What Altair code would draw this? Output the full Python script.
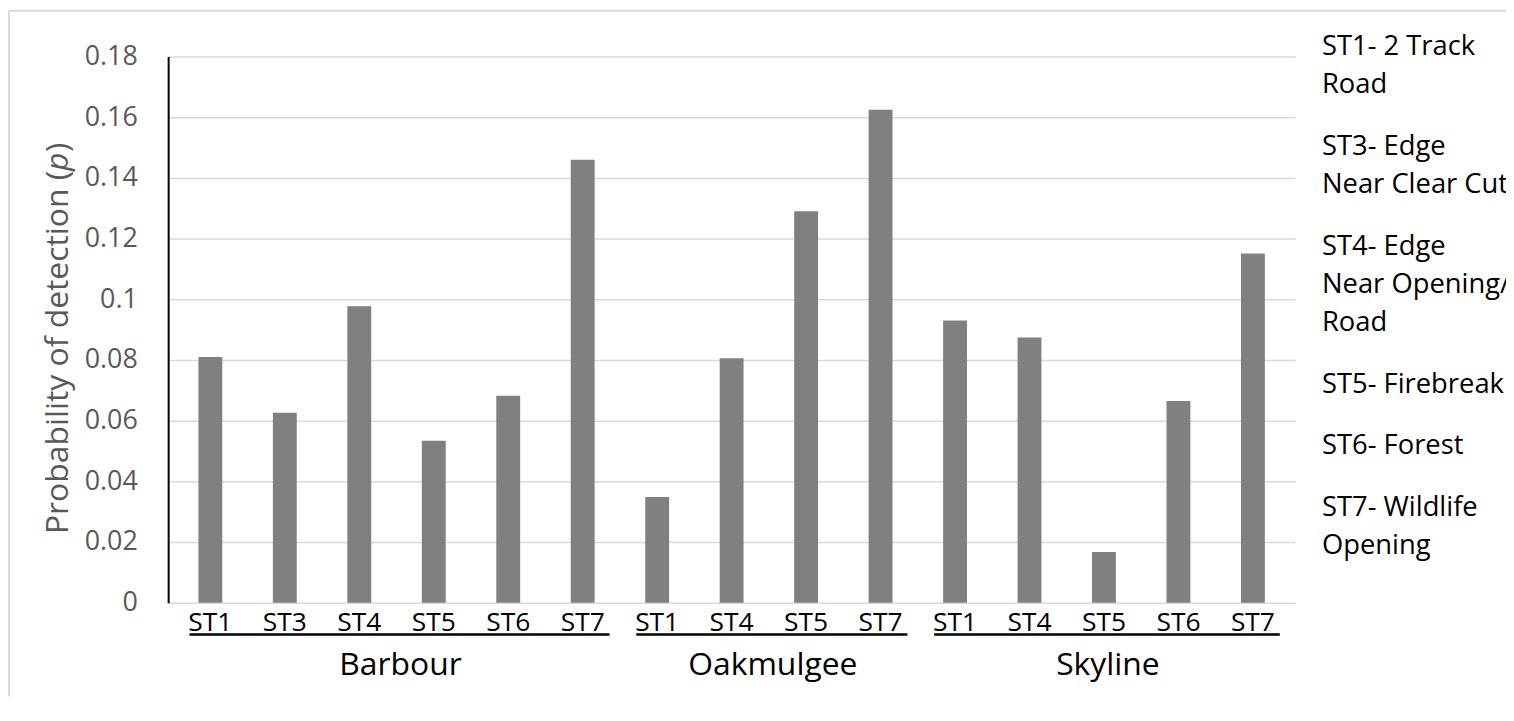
import altair as alt
import pandas as pd

# ---------------- data ----------------
groups = ["Barbour", "Oakmulgee", "Skyline"]
barbour_types = ["ST1", "ST3", "ST4", "ST5", "ST6", "ST7"]
barbour_p = [0.081, 0.0626, 0.0977, 0.0534, 0.0682, 0.146]
oak_types = ["ST1", "ST4", "ST5", "ST7"]
oak_p = [0.0348, 0.0806, 0.129, 0.1625]
sky_types = ["ST1", "ST4", "ST5", "ST6", "ST7"]
sky_p = [0.093, 0.0874, 0.0167, 0.0665, 0.1151]
y_ticks = [0, 0.02, 0.04, 0.06, 0.08, 0.1, 0.12, 0.14, 0.16, 0.18]
legend_blocks = [
    ["ST1- 2 Track", "Road"],
    ["ST3- Edge", "Near Clear Cut"],
    ["ST4- Edge", "Near Opening/", "Road"],
    ["ST5- Firebreak"],
    ["ST6- Forest"],
    ["ST7- Wildlife", "Opening"],
]
y_title_parts = ["Probability of detection (", "p", ")"]

# ---------------- tables ----------------
rows, grows = [], []
idx = 0
for g, types, vals in zip(groups, [barbour_types, oak_types, sky_types], [barbour_p, oak_p, sky_p]):
    start = idx
    for t, v in zip(types, vals):
        rows.append({"group": g, "type": t, "p": v, "pos": idx + 0.5})
        idx += 1
    grows.append({"group": g, "start": start + 0.5, "end": idx - 0.5, "mid": (start + idx) / 2})
df = pd.DataFrame(rows)
gdf = pd.DataFrame(grows)
N = idx

# legend line placement (layout)
LH, GAP, Y0 = 38.5, 23.3, -1.4
lrows = []
yy = Y0
for block in legend_blocks:
    for i, line in enumerate(block):
        lrows.append({"txt": line, "yy": yy + i * LH})
    yy += len(block) * LH + GAP
ldf = pd.DataFrame(lrows)

W, H = 1133, 549
PL, PT, PR, PB = 161, 47, 212, 94
FONT = "Open Sans"

xscale = alt.Scale(domain=[0, N], nice=False, zero=False)
x_axis = alt.Axis(labels=False, ticks=False, title=None, grid=False,
                  domainColor="black", domainWidth=2, zindex=1)

bars = alt.Chart(df).mark_bar(color="#808080", width=24).encode(
    x=alt.X("pos:Q", scale=xscale, axis=x_axis),
    y=alt.Y("p:Q", scale=alt.Scale(domain=[0, 0.18], nice=False),
            axis=alt.Axis(values=y_ticks, format=".2~f", grid=True,
                          gridColor="#d9d9d9", gridWidth=1.5,
                          domainColor="black", domainWidth=2, ticks=False,
                          labelFontSize=27, labelColor="#595959",
                          labelPadding=31, labelFont=FONT, title=None)),
)

cat_labels = alt.Chart(df).mark_text(
    font=FONT, fontSize=26.5, color="black", baseline="alphabetic", align="center"
).encode(
    x=alt.X("pos:Q", scale=xscale, axis=None),
    y=alt.value(577),
    text="type:N",
)

underlines = alt.Chart(gdf).mark_rule(
    color="black", strokeWidth=2.3, xOffset=-21, x2Offset=27
).encode(
    x=alt.X("start:Q", scale=xscale, axis=None),
    x2="end:Q",
    y=alt.value(581),
)

group_labels = alt.Chart(gdf).mark_text(
    font=FONT, fontSize=32, color="black", baseline="alphabetic", align="center", dx=4
).encode(
    x=alt.X("mid:Q", scale=xscale, axis=None),
    y=alt.value(621.7),
    text="group:N",
)

legend_text = alt.Chart(ldf).mark_text(
    font=FONT, fontSize=27.5, color="black", baseline="alphabetic", align="left"
).encode(
    x=alt.value(1160),
    y=alt.Y("yy:Q", scale=None),
    text="txt:N",
)

one = pd.DataFrame({"a": [0]})
yt1 = alt.Chart(one).mark_text(font=FONT, fontSize=32, color="#595959", angle=270,
                               align="left", baseline="middle", text=y_title_parts[0]).encode(
    x=alt.value(-111), y=alt.value(480))
yt2 = alt.Chart(one).mark_text(font=FONT, fontSize=32, color="#595959", angle=270,
                               align="left", baseline="middle", fontStyle="italic",
                               text=y_title_parts[1]).encode(
    x=alt.value(-111), y=alt.value(115))
yt3 = alt.Chart(one).mark_text(font=FONT, fontSize=32, color="#595959", angle=270,
                               align="left", baseline="middle", text=y_title_parts[2]).encode(
    x=alt.value(-111), y=alt.value(96))

# outer chart frame: only the top and left edges are in view
frame_top = alt.Chart(one).mark_rule(color="#d9d9d9", strokeWidth=2).encode(
    x=alt.value(-PL + 1), x2=alt.value(W + PR), y=alt.value(-PT + 1))
frame_left = alt.Chart(one).mark_rule(color="#d9d9d9", strokeWidth=2).encode(
    x=alt.value(-PL + 1), y=alt.value(-PT + 1), y2=alt.value(H + PB))

chart = alt.layer(
    frame_top, frame_left, bars, cat_labels, underlines, group_labels, legend_text, yt1, yt2, yt3
).properties(
    width=W, height=H,
    autosize=alt.AutoSizeParams(type="none"),
    padding={"left": PL, "top": PT, "right": PR, "bottom": PB},
    background="white",
).configure_view(stroke=None)

chart.save("out.html", embed_options={"renderer": "svg", "actions": False})
